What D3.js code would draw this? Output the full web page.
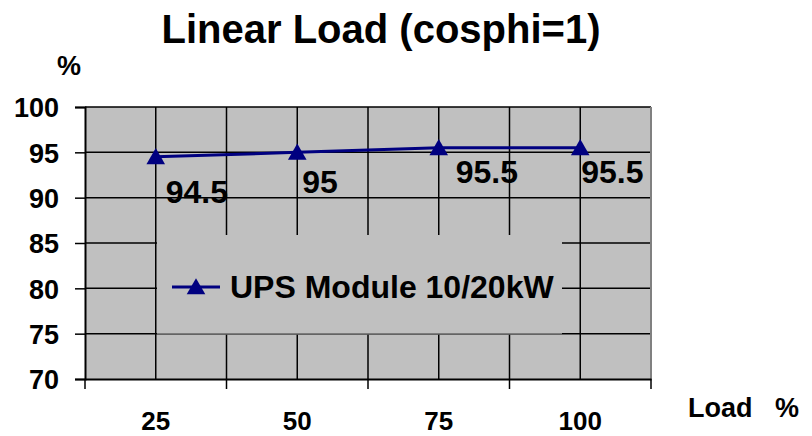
<!DOCTYPE html>
<html>
<head>
<meta charset="utf-8">
<script src="https://cdn.jsdelivr.net/npm/d3@7"></script>
<style>
  html, body { margin: 0; padding: 0; background: #fff; }
  svg text { font-family: "Liberation Sans", Arial, Helvetica, sans-serif; font-weight: bold; fill: #000; }
</style>
</head>
<body>
<svg id="chart" width="812" height="436"></svg>
<script>
// ---- data ----
const categories = ["25", "50", "75", "100"];
const efficiency = [94.5, 95, 95.5, 95.5];
const yTicks = [70, 75, 80, 85, 90, 95, 100];
const seriesName = "UPS Module 10/20kW";
const titleText = "Linear Load (cosphi=1)";
const yUnit = "%";
const xUnit = "Load   %";

// ---- layout ----
const svg = d3.select("#chart");
const plot = { left: 85, right: 651, top: 107, bottom: 379 };
// manual label offsets (dx, dy) from each point, as in the reference
const labelOffsets = [[10, 46], [5, 41], [17, 35], [1, 35]];

const x = d3.scaleBand().domain(categories).range([plot.left, plot.right]).padding(0);
const y = d3.scaleLinear().domain([70, 100]).range([plot.bottom, plot.top]);
const bw = x.bandwidth();

// plot background
svg.append("rect")
  .attr("x", plot.left).attr("y", plot.top)
  .attr("width", plot.right - plot.left).attr("height", plot.bottom - plot.top)
  .attr("fill", "#c0c0c0");

// vertical gridlines: category boundaries and centres
const vLines = [];
categories.forEach(c => { vLines.push(x(c)); vLines.push(x(c) + bw / 2); });
vLines.push(x(categories[categories.length - 1]) + bw);
const grid = svg.append("g");
grid.selectAll("line.v").data(vLines.slice(1, -1)).enter().append("line")
  .attr("x1", d => d).attr("x2", d => d)
  .attr("y1", plot.top).attr("y2", plot.bottom)
  .attr("stroke", "#000").attr("stroke-width", 1.5);
// horizontal gridlines
grid.selectAll("line.h").data(yTicks.slice(1)).enter().append("line")
  .attr("x1", plot.left).attr("x2", plot.right)
  .attr("y1", d => y(d)).attr("y2", d => y(d))
  .attr("stroke", "#000").attr("stroke-width", 1.5);

// right border (grey)
svg.append("line")
  .attr("x1", plot.right).attr("x2", plot.right)
  .attr("y1", plot.top).attr("y2", plot.bottom)
  .attr("stroke", "#808080").attr("stroke-width", 2);

// y axis
const yAxis = svg.append("g").attr("transform", `translate(${plot.left},0)`)
  .call(d3.axisLeft(y).tickValues(yTicks).tickSize(10).tickPadding(16));
yAxis.select(".domain").attr("stroke", "#000").attr("stroke-width", 2);
yAxis.selectAll(".tick line").attr("stroke", "#000").attr("stroke-width", 1.5);
yAxis.selectAll(".tick text")
  .style("font-family", '"Liberation Sans", Arial, sans-serif')
  .style("font-weight", "bold").style("font-size", "27px")
  .attr("dy", "0.36em").attr("fill", "#000");

// x axis
const xAxis = svg.append("g").attr("transform", `translate(0,${plot.bottom})`)
  .call(d3.axisBottom(x).tickSize(0).tickPadding(0));
xAxis.select(".domain").attr("stroke", "#000").attr("stroke-width", 2);
xAxis.selectAll(".tick text")
  .style("font-family", '"Liberation Sans", Arial, sans-serif')
  .style("font-weight", "bold").style("font-size", "26px")
  .attr("y", 51).attr("dy", 0).attr("fill", "#000");
// x tick marks at category boundaries
const bounds = categories.map(c => x(c)).concat([x(categories[categories.length - 1]) + bw]);
svg.append("g").selectAll("line").data(bounds).enter().append("line")
  .attr("x1", d => d).attr("x2", d => d)
  .attr("y1", plot.bottom).attr("y2", plot.bottom + 10)
  .attr("stroke", "#000").attr("stroke-width", 1.5);

// legend box (covers gridlines)
const legX = 157, legY = 235, legW = 405, legH = 99;
svg.append("rect").attr("x", legX).attr("y", legY).attr("width", legW).attr("height", legH)
  .attr("fill", "#c0c0c0");
svg.append("line").attr("x1", legX).attr("x2", legX + legW)
  .attr("y1", legY + legH).attr("y2", legY + legH)
  .attr("stroke", "#666").attr("stroke-width", 1.5);

const tri = d3.symbol().type(d3.symbolTriangle).size(150);
const lg = svg.append("g");
lg.append("line").attr("x1", 172).attr("x2", 220).attr("y1", 287).attr("y2", 287)
  .attr("stroke", "#000080").attr("stroke-width", 3);
lg.append("path").attr("d", tri).attr("transform", "translate(196,289)").attr("fill", "#000080");
lg.append("text").attr("x", 230).attr("y", 298).style("font-size", "32px").text(seriesName);

// series line
const line = d3.line().x((d, i) => x(categories[i]) + bw / 2).y(d => y(d));
svg.append("path").datum(efficiency).attr("d", line)
  .attr("fill", "none").attr("stroke", "#000080").attr("stroke-width", 3);
svg.append("g").selectAll("path").data(efficiency).enter().append("path")
  .attr("d", tri)
  .attr("transform", (d, i) => `translate(${x(categories[i]) + bw / 2},${y(d) + 2})`)
  .attr("fill", "#000080");

// data labels
svg.append("g").selectAll("text").data(efficiency).enter().append("text")
  .attr("x", (d, i) => x(categories[i]) + bw / 2 + labelOffsets[i][0])
  .attr("y", (d, i) => y(d) + labelOffsets[i][1])
  .style("font-size", "32px")
  .text(d => d);

// title and axis units
svg.append("text").attr("x", 381).attr("y", 43).attr("text-anchor", "middle")
  .style("font-size", "40px").text(titleText);
svg.append("text").attr("x", 57).attr("y", 75).style("font-size", "27px").text(yUnit);
svg.append("text").attr("x", 688).attr("y", 417).style("font-size", "27px")
  .style("white-space", "pre").attr("xml:space", "preserve").text(xUnit);
</script>
</body>
</html>
